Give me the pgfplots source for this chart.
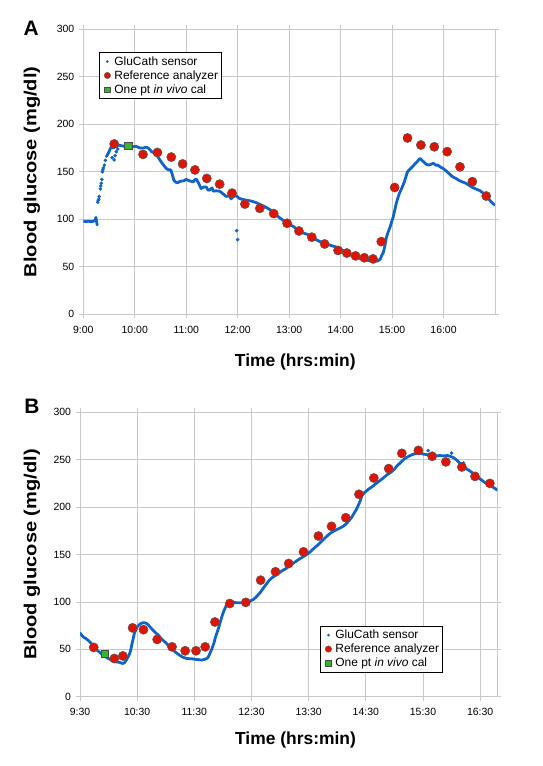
\documentclass[border=0pt]{standalone}
\usepackage{pgfplots}
\pgfplotsset{compat=1.18}
\usepackage{fontspec}
\setmainfont{Liberation Sans}
\definecolor{sensorblue}{RGB}{18,100,205}
\definecolor{refred}{RGB}{222,20,5}
\definecolor{calgreen}{RGB}{50,185,40}
\definecolor{gridgray}{RGB}{200,200,200}

\pgfplotsset{
  myaxis/.style={
    scale only axis,
    ymin=0, ymax=300, ytick={0,50,...,300},
    xtick={0,...,7},
    axis line style={gridgray, line width=0.7bp},
    grid=major, major grid style={gridgray, line width=0.7bp},
    tick style={gridgray, line width=0.7bp},
    tick align=outside, major tick length=4bp,
    ticklabel style={font=\fontsize{10.5}{12}\selectfont},
    xticklabel style={yshift=-4bp},
    yticklabel style={xshift=-1.5bp},
    /pgf/number format/assume math mode=true,
    xlabel={Time (hrs:min)},
    ylabel={\scalebox{1.15}[1]{Blood glucose (mg/dl)}},
    label style={font=\bfseries\fontsize{17.5}{20}\selectfont},
    legend cell align=left,
    legend style={draw=black, line width=0.5bp, fill=white,
      font=\fontsize{12}{14}\selectfont, inner xsep=2.2bp, inner ysep=2.6bp, row sep=1.4bp,
      nodes={inner xsep=1bp, inner ysep=1.2bp}},
  },
  sensorline/.style={sensorblue, line width=2.8bp, line join=round, line cap=round, no marks, forget plot},
  sensordots/.style={sensorblue, only marks, mark=*, mark size=1.6bp, mark options={draw=none, fill=sensorblue}, forget plot},
  refdots/.style={only marks, mark=*, mark size=4.6bp, mark options={draw=black!65, fill=refred, line width=0.5bp}, forget plot},
  caldot/.style={only marks, mark=square*, mark size=3.7bp, mark options={draw=black!70, fill=calgreen, line width=0.5bp}, forget plot},
  legsensor/.style={draw=none, fill=none, mark=none, legend image code/.code={%
      \path[draw=none, fill=none] (0,-3bp) rectangle (12bp,3bp);
      \fill[sensorblue] (6bp,0) circle (1.5bp);}},
  legref/.style={draw=none, fill=none, mark=none, legend image code/.code={%
      \path[draw=none, fill=none] (0,-3bp) rectangle (12bp,3bp);
      \filldraw[draw=black!65, fill=refred, line width=0.4bp] (6bp,0) circle (3.2bp);}},
  legcal/.style={draw=none, fill=none, mark=none, legend image code/.code={%
      \path[draw=none, fill=none] (0,-3bp) rectangle (12bp,3bp);
      \filldraw[draw=black!70, fill=calgreen, line width=0.4bp] (3.3bp,-2.7bp) rectangle (8.7bp,2.7bp);}},
}

\begin{document}
\begin{tikzpicture}
\path[use as bounding box] (0,0) rectangle (543bp,766bp);

\node[font=\bfseries\fontsize{21}{24}\selectfont] at (31.3bp,737.2bp) {A};
\node[font=\bfseries\fontsize{21}{24}\selectfont] at (32bp,359.3bp) {B};

% ---------------- Panel A ----------------
\begin{axis}[myaxis,
  at={(83.3bp,451.7bp)}, anchor=south west,
  width=411.7bp, height=285bp,
  xmin=0, xmax=8,
  xticklabels={9:00,10:00,11:00,12:00,13:00,14:00,15:00,16:00},
  xlabel style={at={(axis description cs:0.515,-0.1663)}, anchor=center},
  ylabel style={at={(axis description cs:-0.1246,0.5)}, anchor=center},
  legend style={at={(axis description cs:0.038,0.919)}, anchor=north west},
]
% sensor
\addplot[sensorline] coordinates {
(0.00,98) (0.05,97.5) (0.10,98) (0.15,97.5) (0.20,98) (0.23,99) (0.245,102) (0.26,97) (0.27,94)
};
\addplot[sensordots] coordinates {
(0.28,118) (0.29,120) (0.30,121) (0.31,124) (0.33,132) (0.34,135) (0.35,138) (0.36,142) (0.37,150) (0.38,152) (0.39,154)
(0.41,157) (0.43,162) (0.56,165) (0.60,162.5) (0.62,167) (0.64,171) (0.67,174)
(2.98,88) (3.00,78.6)
};
\addplot[sensorline] coordinates {
(0.45,166) (0.49,170) (0.54,176) (0.58,175) (0.62,177) (0.70,178) (0.78,177) (0.86,177)
(0.94,176) (1.02,177) (1.10,175) (1.17,175) (1.22,176) (1.26,175) (1.30,173) (1.33,171)
(1.38,170) (1.42,168) (1.47,164) (1.51,160.7) (1.56,157) (1.61,153.6) (1.66,152) (1.70,152)
(1.73,147) (1.76,141) (1.80,139) (1.83,138.4) (1.88,140) (1.95,140.5) (2.00,142) (2.04,141)
(2.09,140) (2.14,139.5) (2.17,142) (2.20,142) (2.24,138) (2.29,132.4) (2.34,134) (2.39,134)
(2.42,131) (2.45,130.6) (2.50,133) (2.53,129.6) (2.58,130) (2.65,129.6) (2.71,127) (2.78,124)
(2.83,125) (2.87,121.5) (2.92,124) (2.97,125) (3.03,122) (3.09,121) (3.18,120) (3.28,119)
(3.36,117.5) (3.44,115.5) (3.50,114) (3.57,112) (3.63,110) (3.70,106.7) (3.76,104) (3.82,101.4)
(3.88,99) (3.95,96) (4.02,94) (4.08,92.6) (4.14,90) (4.20,87.4) (4.28,85.5) (4.36,84)
(4.44,81) (4.52,78.6) (4.60,76.5) (4.68,75) (4.78,73) (4.87,71.5) (4.93,70.5) (5.02,68)
(5.11,65) (5.20,62.5) (5.30,60) (5.40,58.5) (5.49,57) (5.58,56.5) (5.66,56) (5.72,56)
(5.77,58) (5.80,62) (5.83,65) (5.86,72) (5.89,81) (5.92,86) (5.96,91.7) (5.99,97)
(6.02,102) (6.05,109) (6.08,116.5) (6.11,122) (6.14,127) (6.19,133) (6.24,139.5) (6.27,145)
(6.30,150) (6.35,153) (6.39,155) (6.44,158) (6.49,160.7) (6.52,163) (6.55,164) (6.58,162)
(6.61,160.7) (6.66,158) (6.71,157) (6.76,158) (6.80,159) (6.85,157) (6.89,157) (6.94,155)
(6.99,153.6) (7.05,151) (7.11,148) (7.17,145) (7.24,143) (7.30,141) (7.36,139.5) (7.43,138)
(7.49,136) (7.55,134) (7.61,132.4) (7.67,131) (7.71,130) (7.76,128) (7.83,125) (7.90,120)
(7.95,117) (8.00,115)
};
% reference analyzer
\addplot[refdots] coordinates {
(0.60,179.3) (1.16,168.3) (1.44,170.3) (1.71,165.5) (1.93,158.3) (2.17,152) (2.40,143)
(2.65,137) (2.89,127.5) (3.14,116) (3.43,111.5) (3.70,106) (3.96,95.8) (4.19,87.7)
(4.44,81.2) (4.69,74) (4.95,67.2) (5.12,64.5) (5.29,61.5) (5.46,59.5) (5.63,58.3)
(5.79,76.5) (6.05,133.5) (6.30,185.6) (6.56,178.2) (6.82,176.3) (7.07,171.2) (7.32,155.2)
(7.56,139.6) (7.83,124.5)
};
% one-point in vivo calibration
\addplot[caldot] coordinates {(0.87,177.3)};
\addlegendimage{legsensor}
\addlegendentry{GluCath sensor}
\addlegendimage{legref}
\addlegendentry{Reference analyzer}
\addlegendimage{legcal}
\addlegendentry{One pt \textit{in vivo} cal}
\end{axis}

% ---------------- Panel B ----------------
\begin{axis}[myaxis,
  at={(80bp,69.3bp)}, anchor=south west,
  width=417.3bp, height=284.4bp,
  xmin=0, xmax=7.3,
  xticklabels={9:30,10:30,11:30,12:30,13:30,14:30,15:30,16:30},
  xlabel style={at={(axis description cs:0.5164,-0.152)}, anchor=center},
  ylabel style={at={(axis description cs:-0.115,0.5)}, anchor=center},
  legend style={at={(axis description cs:0.575,0.2486)}, anchor=north west},
]
\addplot[sensorline] coordinates {
(0.00,67) (0.03,65) (0.056,63) (0.10,61.5) (0.14,59.6) (0.20,56) (0.24,53) (0.28,50)
(0.32,48) (0.36,46) (0.40,44) (0.45,42) (0.49,40.5) (0.53,39.3) (0.57,38) (0.61,37)
(0.66,36.5) (0.70,36) (0.75,35) (0.78,36) (0.81,38.6) (0.84,42) (0.87,45.6) (0.89,50)
(0.91,56) (0.93,61) (0.95,66.7) (0.98,71) (1.00,73.7) (1.03,75.5) (1.06,77) (1.10,78)
(1.13,78) (1.17,77) (1.20,75.4) (1.24,72.5) (1.28,70) (1.32,67.5) (1.37,65) (1.41,62)
(1.45,59.6) (1.50,57) (1.54,54.4) (1.58,52) (1.62,50) (1.66,47.5) (1.70,45.6) (1.75,43.5)
(1.79,42) (1.83,41) (1.87,40.3) (1.92,40) (1.96,40) (2.00,39.5) (2.04,39.3) (2.08,39)
(2.12,38.6) (2.16,39) (2.21,40) (2.24,41.5) (2.26,43.9) (2.29,48) (2.32,52.6) (2.35,58)
(2.37,63) (2.40,68) (2.43,73.7) (2.46,80) (2.49,86) (2.52,91) (2.55,95) (2.58,99)
(2.62,100) (2.66,100) (2.70,99.5) (2.75,99) (2.80,99) (2.86,99) (2.90,99) (2.94,100)
(2.98,101) (3.03,102.5) (3.07,104.5) (3.11,107) (3.16,110.5) (3.20,114) (3.25,118) (3.31,122.8)
(3.36,125.5) (3.42,128) (3.48,130.5) (3.54,133) (3.60,135) (3.65,137.5) (3.70,139.5) (3.76,142)
(3.82,144.5) (3.88,146.7) (3.94,149) (3.99,151) (4.05,154) (4.10,157) (4.16,160) (4.21,163)
(4.27,166.5) (4.33,170) (4.38,172.5) (4.44,174.7) (4.50,176.5) (4.55,178) (4.60,179.6) (4.65,182)
(4.71,186) (4.75,189) (4.79,193) (4.84,198) (4.88,203.5) (4.91,208) (4.93,212) (4.97,215)
(5.02,217.5) (5.06,219.5) (5.10,221) (5.15,223.5) (5.21,226.3) (5.27,229) (5.33,232) (5.38,234.5)
(5.44,236.8) (5.50,240) (5.55,243.8) (5.60,246.5) (5.64,249) (5.68,251) (5.72,252.6) (5.78,254.5)
(5.84,256) (5.90,256.5) (5.95,256.8) (6.00,256) (6.06,255.4) (6.12,255) (6.18,254.4) (6.24,254)
(6.29,254.4) (6.36,254) (6.43,254.4) (6.48,253.5) (6.54,252) (6.57,250.5) (6.60,249) (6.64,246.5)
(6.68,243.8) (6.72,242) (6.77,240) (6.81,238.5) (6.85,236.8) (6.91,234) (6.97,231) (7.02,228.8)
(7.08,226) (7.14,224) (7.20,222) (7.25,220) (7.30,218)
};
\addplot[sensordots] coordinates {
(6.09,259.6) (6.50,257) (6.71,246.5)
};
\addplot[refdots] coordinates {
(0.24,52) (0.60,40.3) (0.75,43) (0.92,72.6) (1.11,70.7) (1.35,60.4) (1.61,52.6) (1.84,48.4)
(2.03,48.4) (2.19,52.6) (2.36,78.8) (2.62,98.3) (2.90,99.5) (3.16,122.9) (3.42,131.8)
(3.65,140.5) (3.91,152.8) (4.17,169.5) (4.40,179.7) (4.65,188.8) (4.88,213.5) (5.14,230.7)
(5.40,240.6) (5.63,256.7) (5.92,259.8) (6.16,253.6) (6.40,247.7) (6.68,242.3) (6.91,232.4)
(7.17,225)
};
\addplot[caldot] coordinates {(0.43,45.5)};
\addlegendimage{legsensor}
\addlegendentry{GluCath sensor}
\addlegendimage{legref}
\addlegendentry{Reference analyzer}
\addlegendimage{legcal}
\addlegendentry{One pt \textit{in vivo} cal}
\end{axis}
\end{tikzpicture}
\end{document}
